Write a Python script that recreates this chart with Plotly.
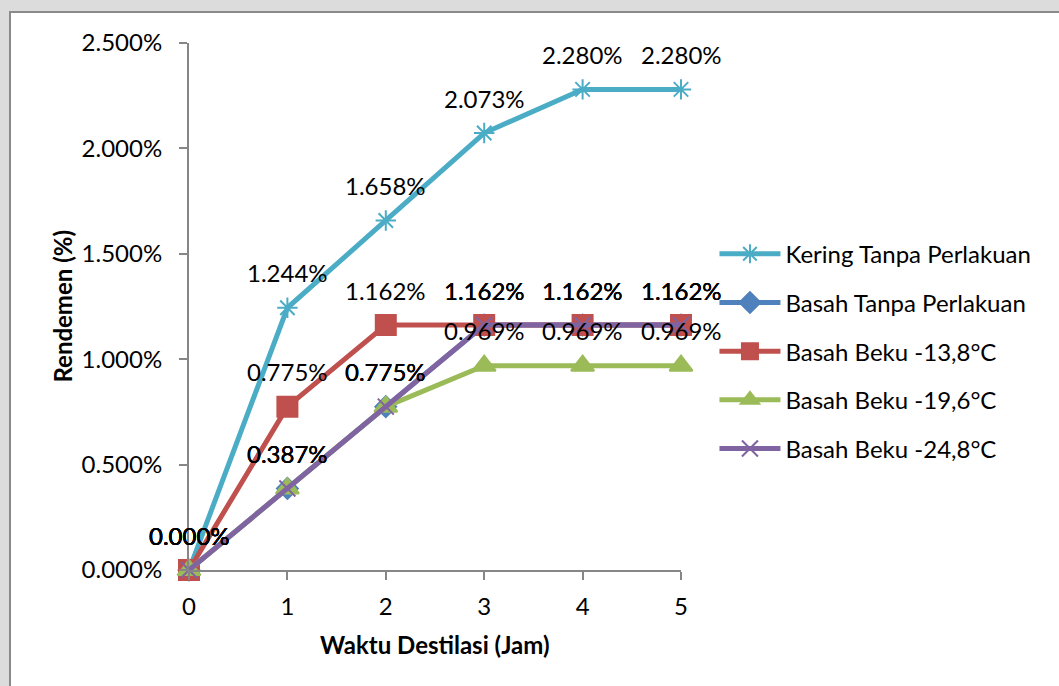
import plotly.graph_objects as go

hours = [0, 1, 2, 3, 4, 5]
kering = [0.0, 1.244, 1.658, 2.073, 2.280, 2.280]
basah = [0.0, 0.387, 0.775, 1.162, 1.162, 1.162]
beku_138 = [0.0, 0.775, 1.162, 1.162, 1.162, 1.162]
beku_196 = [0.0, 0.387, 0.775, 0.969, 0.969, 0.969]
beku_248 = [0.0, 0.387, 0.775, 1.162, 1.162, 1.162]

series = [
    ("Kering Tanpa Perlakuan", kering, "#4BACC6", "asterisk-open", 17),
    ("Basah Tanpa Perlakuan", basah, "#4F81BD", "diamond", 16),
    ("Basah Beku -13,8°C", beku_138, "#C0504D", "square", 20),
    ("Basah Beku -19,6°C", beku_196, "#9BBB59", "triangle-up", 20),
    ("Basah Beku -24,8°C", beku_248, "#8064A2", "x-thin-open", 16),
]

FONT = "Lato, Open Sans, sans-serif"
FS = 24
fig = go.Figure()
annotations = []
for i, (name, vals, color, sym, ms) in enumerate(series):
    yv = [v / 100 for v in vals]
    fig.add_trace(go.Scatter(
        x=hours, y=yv, name=name, mode="lines+markers",
        line=dict(color=color, width=5),
        marker=dict(symbol=sym, size=ms, color=color,
                    line=dict(color=color, width=2)),
        legendgroup=f"g{i}",
        cliponaxis=False,
    ))
    for x, v in zip(hours, vals):
        annotations.append(dict(
            x=x, y=v / 100, xref="x", yref="y", text=f"{v:.3f}%",
            showarrow=False, yshift=35, xanchor="center", yanchor="middle",
            font=dict(family=FONT, size=FS, color="black"),
        ))

annotations.append(dict(
    x=-0.258, y=0.5, xref="paper", yref="paper", text="<b>Rendemen (%)</b>",
    textangle=-90, showarrow=False, xanchor="center", yanchor="middle",
    font=dict(family=FONT, size=FS, color="black"),
))
annotations.append(dict(
    x=0.5, y=-0.142, xref="paper", yref="paper", text="<b>Waktu Destilasi (Jam)</b>",
    showarrow=False, xanchor="center", yanchor="middle",
    font=dict(family=FONT, size=FS, color="black"),
))

fig.update_layout(
    width=1059, height=686,
    margin=dict(l=189, r=378, t=43, b=116),
    paper_bgcolor="#dcdcdc",
    plot_bgcolor="white",
    font=dict(family=FONT, size=FS, color="black"),
    annotations=annotations,
    showlegend=True,
    legend=dict(
        x=1.068, y=0.642, xanchor="left", yanchor="top",
        bgcolor="rgba(0,0,0,0)", traceorder="grouped", tracegroupgap=14.5,
        font=dict(family=FONT, size=FS), itemwidth=61,
    ),
    shapes=[dict(
        type="rect", xref="paper", yref="paper", layer="below",
        x0=-0.3638, x1=1.78, y0=-0.24, y1=1.0588,
        fillcolor="white", line=dict(color="#8a8a8a", width=2),
    )],
    xaxis=dict(
        range=[0, 5], tickmode="array", tickvals=hours, ticktext=[str(h) for h in hours],
        showgrid=False, zeroline=False, showline=True, linecolor="#868686", linewidth=2,
        ticks="outside", ticklen=8, tickcolor="#868686", tickwidth=2,
        tickfont=dict(family=FONT, size=FS), ticklabelstandoff=6,
    ),
    yaxis=dict(
        range=[0, 0.025], tickformat=".3%", dtick=0.005,
        showgrid=False, zeroline=False, showline=True, linecolor="#868686", linewidth=2,
        ticks="outside", ticklen=8, tickcolor="#868686", tickwidth=2,
        tickfont=dict(family=FONT, size=FS), ticklabelstandoff=12,
    ),
)

fig.write_html("out.html", post_script="document.body.style.margin='0';",
               config={"displayModeBar": False})
